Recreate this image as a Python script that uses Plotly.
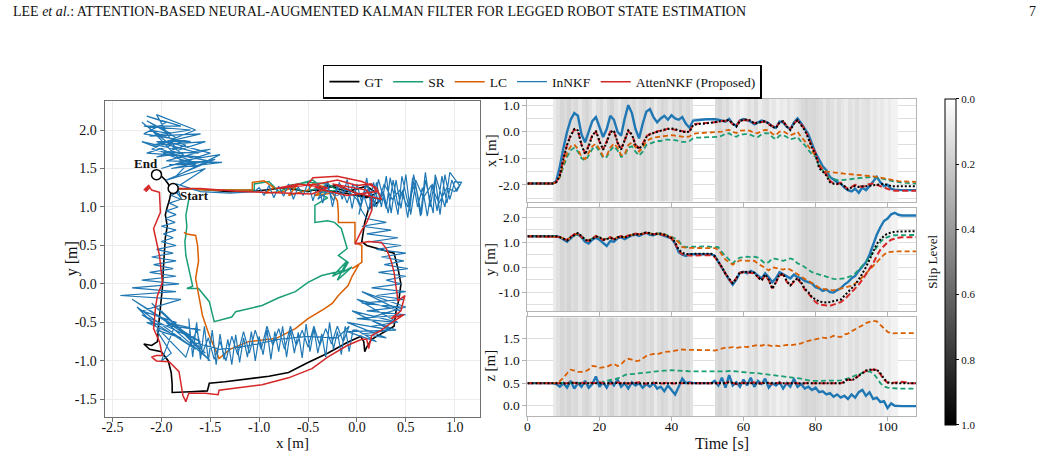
import plotly.graph_objects as go

W, H = 1041, 457
FONT = "Liberation Serif"

# ---------------- 2D trajectories (x [m], y [m]) ----------------
GT_PATH = [(-1.88,1.24),(-1.6,1.23),(-1.3,1.2),(-1.0,1.21),(-0.75,1.25),(-0.5,1.2),(-0.3,1.28),(-0.1,1.2),
           (0.1,1.27),(0.2,1.18),(0.1,1.12),(-0.2,1.2),(-0.45,1.22),(-0.2,1.28),(0.05,1.15),(0.25,1.1),
           (0.2,1.05),(0.12,0.98),(0.08,0.8),(0.05,0.55),(0.1,0.5),(0.25,0.45),(0.38,0.4),(0.42,0.2),
           (0.45,0.0),(0.43,-0.2),(0.4,-0.35),(0.38,-0.55),(0.25,-0.65),(0.15,-0.72),(0.1,-0.82),(0.08,-0.88),
           (0.07,-0.75),(0.04,-0.68),(-0.1,-0.76),(-0.3,-0.9),(-0.5,-1.02),(-0.7,-1.15),(-0.9,-1.2),(-1.14,-1.24),
           (-1.35,-1.27),(-1.51,-1.29),(-1.52,-1.35),(-1.53,-1.39),(-1.7,-1.4),(-1.89,-1.41),(-1.89,-1.3),
           (-1.9,-1.15),(-1.93,-1.0),(-2.0,-0.88),(-2.12,-0.85),(-2.18,-0.78),(-2.1,-0.8),(-2.04,-0.75),
           (-2.03,-0.55),(-2.01,-0.3),(-1.99,-0.05),(-1.98,0.2),(-1.97,0.45),(-1.96,0.6),(-1.94,0.75),
           (-1.96,0.9),(-1.94,1.0),(-1.92,1.08),(-1.9,1.2),(-1.93,1.3),(-1.96,1.35),(-2.0,1.4),(-2.05,1.42)]

SR_PATH = [(-1.88,1.24),(-1.5,1.22),(-1.05,1.22),(-1.05,1.3),(-0.9,1.33),(-0.8,1.2),(-0.6,1.3),(-0.45,1.35),
           (-0.35,1.25),(-0.55,1.2),(-0.7,1.28),(-0.5,1.32),(-0.3,1.3),(-0.2,1.22),(-0.4,1.18),(-0.3,1.12),
           (-0.43,1.02),(-0.43,0.8),(-0.3,0.82),(-0.23,0.8),(-0.16,0.72),(-0.12,0.54),(-0.1,0.46),(-0.19,0.37),
           (-0.09,0.28),(-0.15,0.15),(-0.05,0.22),(-0.2,0.05),(-0.1,0.3),(-0.25,0.1),(-0.12,0.18),(-0.36,0.11),
           (-0.5,0.02),(-0.63,-0.1),(-0.8,-0.18),(-0.97,-0.28),(-1.1,-0.32),(-1.24,-0.36),(-1.28,-0.43),
           (-1.46,-0.49),(-1.51,-0.23),(-1.62,-0.06),(-1.74,-0.06),(-1.68,-0.03),(-1.75,0.37),(-1.76,0.55),
           (-1.75,0.63),(-1.74,0.75),(-1.75,0.89),(-1.72,1.06),(-1.72,1.1)]

LC_PATH = [(-1.88,1.24),(-1.5,1.22),(-1.07,1.22),(-1.07,1.32),(-0.95,1.34),(-0.85,1.25),(-0.95,1.18),
           (-0.75,1.2),(-0.6,1.3),(-0.7,1.15),(-0.5,1.22),(-0.45,1.3),(-0.3,1.25),(-0.43,1.15),(-0.25,1.18),
           (-0.2,1.08),(-0.19,0.93),(-0.19,0.8),(-0.02,0.8),(-0.02,0.54),(0.05,0.5),(0.05,0.28),(-0.05,0.2),
           (0.02,0.25),(-0.05,0.1),(-0.09,-0.02),(-0.19,-0.15),(-0.25,-0.25),(-0.33,-0.32),(-0.5,-0.45),
           (-0.63,-0.58),(-0.83,-0.71),(-1.11,-0.75),(-1.3,-0.85),(-1.41,-0.97),(-1.45,-0.85),(-1.51,-0.67),
           (-1.58,-0.41),(-1.62,-0.15),(-1.65,0.07),(-1.62,0.3),(-1.63,0.5),(-1.65,0.63),(-1.74,0.65),(-1.77,0.67)]

IN_PATH = [
    # leaving the start, top band (several passes)
    (-1.88,1.24),(-1.8,1.12),(-1.85,1.3),(-1.6,1.2),(-1.3,1.18),(-1.05,1.2),
    (-1.0,1.25),(-0.95,1.15),(-0.9,1.28),(-0.85,1.12),(-0.8,1.27),(-0.75,1.14),(-0.7,1.3),(-0.65,1.1),
    (-0.6,1.26),(-0.55,1.15),(-0.5,1.32),(-0.45,1.08),(-0.4,1.3),(-0.35,1.05),(-0.3,1.34),(-0.25,1.0),
    (-0.2,1.28),(-0.15,1.1),(-0.1,1.36),(-0.05,0.98),(0.0,1.3),(0.05,1.05),(0.1,1.38),(0.15,0.95),
    (0.2,1.32),(0.25,1.0),(0.3,1.4),(0.35,0.92),(0.4,1.35),(0.45,0.98),(0.5,1.42),(0.55,0.9),(0.6,1.3),
    (0.65,0.88),(0.7,1.45),(0.75,1.0),(0.8,1.38),(0.85,0.9),(0.9,1.42),(0.95,1.1),(1.0,1.33),(1.07,1.32),
    (1.02,1.2),(0.97,1.35),(0.92,1.05),(0.87,1.4),(0.82,0.95),(0.77,1.3),(0.72,0.88),(0.67,1.25),
    (0.62,1.0),(0.57,1.38),(0.52,0.86),(0.47,1.22),(0.42,1.02),(0.37,1.35),(0.32,0.92),(0.27,1.2),
    (0.22,1.05),(0.17,1.32),(0.12,0.95),(0.07,1.15),(0.02,0.9),
    (0.05,1.1),(0.12,1.25),(0.2,1.0),(0.28,1.3),(0.36,1.1),(0.44,1.22),(0.52,1.0),(0.6,1.35),(0.68,1.12),
    (0.76,1.28),(0.84,1.05),(0.92,1.25),(1.0,1.2),
    (1.05,1.28),(0.95,1.45),(0.9,1.0),(0.8,1.42),(0.78,0.92),(0.7,1.35),(0.66,0.9),(0.58,1.42),(0.54,0.95),
    (0.46,1.4),(0.42,0.9),(0.34,1.38),(0.3,0.98),(0.22,1.36),(0.18,1.0),(0.1,1.3),(0.04,1.0),(-0.04,1.3),
    (-0.1,1.05),(-0.18,1.32),(-0.24,1.08),(-0.32,1.3),(-0.4,1.1),(-0.3,1.2),(-0.2,1.15),(-0.1,1.22),
    (0.0,1.1),(0.05,0.95),
    # right side, going down
    (0.1,0.85),(0.3,0.8),(0.05,0.75),(0.35,0.7),(0.1,0.65),(0.42,0.6),(0.15,0.55),(0.45,0.5),(0.2,0.45),
    (0.5,0.4),(0.25,0.35),(0.48,0.3),(0.28,0.25),(0.52,0.2),(0.22,0.15),(0.5,0.1),(0.3,0.05),(0.45,0.0),
    (0.15,-0.05),(0.5,-0.1),(0.2,-0.15),(0.48,-0.2),(0.05,-0.25),(0.45,-0.3),(0.1,-0.35),(0.5,-0.4),
    (0.0,-0.45),(0.4,-0.5),(0.15,-0.55),(0.35,-0.6),(0.05,-0.65),
    (0.3,-0.7),(-0.1,-0.5),(0.35,-0.6),(-0.05,-0.35),(0.42,-0.5),(0.0,-0.2),(0.45,-0.35),(0.05,-0.1),
    (0.5,-0.3),(0.1,-0.45),(0.4,-0.6),(-0.1,-0.62),(0.2,-0.75),(0.0,-0.6),
    # bottom band, going left, back right, and left again
    (-0.04,-0.6),(-0.08,-0.88),(-0.12,-0.55),(-0.16,-0.92),(-0.2,-0.62),(-0.24,-0.85),(-0.28,-0.5),
    (-0.32,-0.95),(-0.36,-0.65),(-0.4,-0.9),(-0.44,-0.58),(-0.48,-0.88),(-0.52,-0.52),(-0.56,-0.96),
    (-0.6,-0.63),(-0.64,-0.9),(-0.68,-0.6),(-0.72,-0.95),(-0.76,-0.55),(-0.8,-0.88),(-0.84,-0.62),
    (-0.88,-0.98),(-0.92,-0.6),(-0.96,-0.92),(-1.0,-0.68),(-1.04,-1.0),(-1.08,-0.62),(-1.12,-0.95),
    (-1.16,-0.7),(-1.2,-1.02),(-1.24,-0.66),(-1.28,-1.05),(-1.32,-0.72),(-1.36,-0.98),(-1.4,-0.65),
    (-1.44,-1.05),(-1.48,-0.6),(-1.52,-1.0),(-1.56,-0.55),(-1.6,-0.98),(-1.64,-0.5),(-1.68,-0.95),(-1.72,-0.45),
    (-1.7,-0.8),(-1.64,-0.6),(-1.58,-0.9),(-1.52,-0.7),(-1.46,-0.98),(-1.4,-0.75),(-1.34,-1.0),(-1.28,-0.68),
    (-1.22,-0.92),(-1.16,-0.62),(-1.1,-0.9),(-1.04,-0.6),(-0.98,-0.85),(-0.92,-0.55),(-0.86,-0.8),
    (-0.8,-0.58),(-0.74,-0.85),(-0.68,-0.55),(-0.62,-0.8),(-0.56,-0.6),(-0.5,-0.82),(-0.44,-0.55),
    (-0.38,-0.8),(-0.32,-0.58),(-0.26,-0.78),(-0.2,-0.55),(-0.14,-0.75),(-0.08,-0.55),
    (-0.2,-0.7),(-0.5,-0.68),(-0.8,-0.72),(-1.1,-0.8),(-1.4,-0.85),(-1.7,-0.75),
    (-1.75,-0.95),(-2.25,-0.3),(-1.65,-0.85),(-2.2,-0.4),(-1.6,-0.75),(-2.3,-0.2),(-1.7,-0.7),(-2.1,-0.25),
    (-1.55,-0.9),(-2.0,-0.35),(-1.5,-1.0),(-1.95,-0.5),(-1.6,-0.6),(-2.15,-0.5),(-1.8,-0.7),(-2.05,-0.6),
    (-1.9,-0.9),(-2.0,-1.0),(-1.85,-0.5),(-2.2,-0.35),
    # left side, going up
    (-1.8,-0.2),(-2.42,-0.15),(-1.85,-0.1),(-2.3,-0.05),(-1.82,0.0),(-2.2,0.05),(-1.85,0.1),(-2.12,0.15),
    (-1.88,0.2),(-2.08,0.25),(-1.85,0.3),(-2.1,0.35),(-1.88,0.4),(-2.05,0.45),(-1.85,0.5),(-2.0,0.55),
    (-1.88,0.6),(-1.98,0.65),(-1.85,0.7),(-2.0,0.75),(-1.86,0.8),(-1.96,0.85),(-1.85,0.9),(-1.95,0.95),
    (-1.83,1.0),(-1.92,1.05),(-1.8,1.1),(-1.9,1.15),(-1.82,1.2),
    # upper-left drift
    (-1.85,1.25),(-1.55,1.5),(-1.95,1.35),(-1.45,1.62),(-1.9,1.5),(-1.38,1.58),(-1.95,1.6),(-1.5,1.75),
    (-2.05,1.65),(-1.55,1.85),(-2.1,1.8),(-1.6,1.95),(-2.12,1.92),(-1.7,2.0),(-2.18,2.05),(-1.8,2.05),
    (-2.15,2.18),(-1.95,2.1),(-2.18,1.95),(-1.7,1.85),(-2.05,1.85),(-1.62,1.7),(-2.0,1.72),(-1.52,1.6),
    (-1.92,1.55),(-1.65,1.55),(-1.98,1.7),(-1.75,1.8),(-2.12,2.0),(-1.9,1.95),(-2.15,2.12),(-1.85,1.9),
    (-2.1,1.75),(-1.75,1.65),
    (-2.2,2.1),(-1.9,1.8),(-2.15,1.7),(-1.6,1.65),(-2.0,1.5),(-1.5,1.7),(-1.95,1.85),(-1.65,2.0),
    (-2.05,2.2),(-1.85,1.75),(-2.2,1.85),(-1.7,1.6),(-1.85,1.4),(-1.4,1.68),(-1.8,1.6),(-2.1,2.0),(-2.05,2.05)]

AT_PATH = [(-1.88,1.24),(-1.6,1.24),(-1.2,1.2),(-0.8,1.18),(-0.46,1.17),(-0.3,1.25),(-0.6,1.3),(-0.83,1.24),
           (-0.4,1.3),(-0.2,1.35),(0.0,1.28),(0.15,1.3),(0.2,1.2),(-0.1,1.15),(-0.35,1.22),(-0.5,1.3),
           (-0.45,1.38),(-0.2,1.4),(0.05,1.33),(0.2,1.25),(0.25,1.1),(0.0,1.18),(-0.25,1.3),(0.1,1.22),
           (0.15,1.1),(0.15,0.95),(0.1,0.8),(0.05,0.7),(-0.02,0.52),(0.12,0.55),(0.25,0.54),(0.3,0.46),
           (0.35,0.3),(0.38,0.15),(0.4,-0.05),(0.42,-0.22),(0.49,-0.15),(0.45,-0.35),(0.35,-0.45),(0.48,-0.4),
           (0.3,-0.55),(0.25,-0.6),(0.15,-0.67),(0.12,-0.84),(0.1,-0.72),(0.05,-0.72),(-0.1,-0.8),(-0.3,-0.95),
           (-0.46,-1.1),(-0.7,-1.22),(-0.97,-1.31),(-1.2,-1.35),(-1.41,-1.38),(-1.42,-1.44),(-1.55,-1.42),
           (-1.72,-1.42),(-1.75,-1.53),(-1.78,-1.45),(-1.82,-1.14),(-1.92,-1.01),(-2.05,-1.0),(-2.1,-0.95),
           (-2.05,-0.93),(-1.99,-0.93),(-2.02,-0.75),(-2.08,-0.58),(-2.06,-0.3),(-2.04,-0.15),(-1.99,0.02),
           (-2.02,0.37),(-2.08,0.72),(-2.01,0.93),(-2.02,1.19),(-2.1,1.22),(-2.13,1.28),(-2.18,1.22),
           (-2.12,1.25),(-2.16,1.2),(-2.14,1.27)]

START_PT = (-1.88, 1.24)
END_PT = (-2.05, 1.42)

# ---------------- time series ----------------
T = list(range(109))  # seconds

GT_X = [-1.95,-1.95,-1.95,-1.95,-1.95,-1.95,-1.95,-1.95,-1.9,-1.65,
        -1.0,-0.5,-0.15,0.1,0.05,-0.5,-0.85,-0.55,-0.15,0.03,
        -0.35,-0.68,-0.4,-0.02,0.05,-0.4,-0.68,-0.3,0.05,-0.1,
        -0.5,-0.65,-0.5,-0.2,-0.1,-0.05,0.0,0.05,0.08,0.1,
        0.12,0.1,0.05,0.0,-0.02,0.0,0.25,0.28,0.3,0.3,
        0.32,0.33,0.36,0.38,0.38,0.4,0.44,0.3,0.19,0.4,
        0.45,0.46,0.42,0.3,0.33,0.38,0.4,0.3,0.18,0.13,
        0.35,0.4,0.2,0.06,0.3,0.44,0.25,0.06,-0.25,-0.6,
        -0.85,-1.38,-1.5,-1.65,-1.9,-1.96,-1.96,-1.96,-2.05,-2.18,
        -2.1,-2.05,-2.08,-2.05,-2.05,-2.03,-2.0,-1.98,-1.96,-1.96,
        -2.0,-2.05,-2.05,-2.05,-2.05,-2.05,-2.05,-2.05,-2.05]
AT_X = [-1.95,-1.95,-1.95,-1.95,-1.95,-1.95,-1.95,-1.95,-1.9,-1.62,
        -1.0,-0.48,-0.13,0.08,0.02,-0.48,-0.82,-0.52,-0.12,0.0,
        -0.38,-0.66,-0.36,0.0,0.03,-0.42,-0.65,-0.28,0.02,-0.12,
        -0.48,-0.62,-0.46,-0.18,-0.08,-0.06,0.02,0.03,0.06,0.12,
        0.1,0.08,0.04,0.02,0.0,0.02,0.27,0.3,0.31,0.32,
        0.33,0.34,0.37,0.37,0.4,0.42,0.42,0.28,0.22,0.42,
        0.44,0.44,0.4,0.32,0.35,0.36,0.38,0.28,0.2,0.15,
        0.36,0.38,0.22,0.1,0.32,0.42,0.28,0.1,-0.2,-0.55,
        -0.8,-1.3,-1.45,-1.6,-1.85,-1.95,-1.98,-1.92,-2.05,-2.15,
        -2.08,-2.0,-2.05,-2.08,-2.0,-1.98,-1.95,-2.0,-2.05,-2.1,
        -2.15,-2.2,-2.22,-2.22,-2.2,-2.22,-2.23,-2.22,-2.22]
IN_X = [-1.95,-1.95,-1.95,-1.95,-1.95,-1.95,-1.95,-1.95,-1.85,-1.3,
        -0.6,0.0,0.45,0.7,0.6,-0.1,-0.4,0.0,0.4,0.55,
        0.15,-0.2,0.1,0.6,0.45,0.0,-0.15,0.5,1.0,0.7,
        0.1,-0.25,0.3,0.75,0.85,0.55,0.35,0.5,0.6,0.45,
        0.62,0.5,0.45,0.55,0.3,0.15,0.42,0.44,0.45,0.46,
        0.47,0.48,0.47,0.45,0.42,0.38,0.48,0.3,0.22,0.42,
        0.48,0.44,0.38,0.28,0.36,0.42,0.38,0.32,0.2,0.15,
        0.38,0.35,0.18,0.1,0.35,0.5,0.32,0.12,-0.1,-0.45,
        -0.8,-1.05,-1.3,-1.45,-1.7,-1.8,-1.9,-1.95,-2.1,-2.2,
        -2.25,-2.15,-2.3,-2.1,-2.2,-2.05,-1.85,-1.7,-1.9,-2.05,
        -2.0,-2.15,-2.18,-2.2,-2.2,-2.2,-2.2,-2.2,-2.2]
SR_X = [-1.95,-1.95,-1.95,-1.95,-1.95,-1.95,-1.95,-1.95,-1.9,-1.72,
        -1.3,-0.95,-0.7,-0.6,-0.75,-1.0,-1.08,-0.9,-0.65,-0.55,
        -0.75,-0.98,-0.95,-0.7,-0.55,-0.7,-0.95,-0.9,-0.6,-0.55,
        -0.75,-0.9,-0.75,-0.5,-0.45,-0.4,-0.35,-0.35,-0.3,-0.3,
        -0.3,-0.32,-0.35,-0.38,-0.38,-0.35,-0.25,-0.22,-0.22,-0.21,
        -0.21,-0.2,-0.2,-0.19,-0.15,-0.08,-0.06,-0.15,-0.19,-0.1,
        -0.1,-0.08,-0.12,-0.18,-0.2,-0.1,-0.05,-0.06,-0.2,-0.29,
        -0.15,-0.12,-0.2,-0.29,-0.25,-0.2,-0.38,-0.5,-0.69,-0.85,
        -0.95,-1.3,-1.45,-1.65,-1.72,-1.78,-1.82,-1.83,-1.82,-1.8,
        -1.78,-1.76,-1.75,-1.73,-1.72,-1.7,-1.7,-1.72,-1.76,-1.8,
        -1.82,-1.85,-1.88,-1.9,-1.92,-1.93,-1.94,-1.95,-1.95]
LC_X = [-1.95,-1.95,-1.95,-1.95,-1.95,-1.95,-1.95,-1.95,-1.9,-1.68,
        -1.2,-0.8,-0.55,-0.48,-0.65,-0.95,-1.03,-0.8,-0.55,-0.45,
        -0.65,-0.92,-0.9,-0.6,-0.45,-0.6,-0.88,-0.85,-0.5,-0.4,
        -0.6,-0.75,-0.6,-0.35,-0.28,-0.22,-0.2,-0.18,-0.15,-0.15,
        -0.13,-0.15,-0.17,-0.2,-0.2,-0.18,-0.08,-0.06,-0.05,-0.05,
        -0.04,-0.04,-0.03,-0.02,0.0,0.05,0.07,0.0,-0.05,0.04,
        0.05,0.06,0.02,-0.05,-0.05,0.03,0.07,0.05,-0.08,-0.13,
        0.0,0.02,-0.06,-0.13,-0.08,0.0,-0.2,-0.35,-0.55,-0.75,
        -0.9,-1.2,-1.42,-1.5,-1.52,-1.53,-1.55,-1.56,-1.58,-1.59,
        -1.6,-1.62,-1.63,-1.65,-1.66,-1.67,-1.68,-1.7,-1.73,-1.76,
        -1.79,-1.82,-1.84,-1.86,-1.87,-1.88,-1.88,-1.89,-1.89]

GT_Y = [1.24,1.24,1.24,1.24,1.24,1.24,1.24,1.24,1.24,1.2,
        1.15,1.07,1.2,1.3,1.37,1.25,1.1,1.04,1.15,1.23,
        1.2,1.1,1.12,1.18,1.1,1.2,1.23,1.18,1.25,1.3,
        1.33,1.3,1.35,1.4,1.36,1.3,1.33,1.35,1.3,1.25,
        1.17,1.0,0.7,0.58,0.53,0.53,0.54,0.54,0.54,0.54,
        0.54,0.54,0.45,0.25,0.0,-0.27,-0.45,-0.64,-0.45,-0.2,
        -0.2,-0.18,-0.2,-0.22,-0.4,-0.53,-0.29,-0.5,-0.87,-0.6,
        -0.3,-0.27,-0.55,-0.73,-0.55,-0.45,-0.6,-0.87,-1.0,-1.2,
        -1.3,-1.38,-1.4,-1.42,-1.4,-1.35,-1.33,-1.3,-1.15,-1.0,
        -0.87,-0.7,-0.5,-0.27,0.0,0.3,0.6,0.93,1.1,1.25,
        1.35,1.4,1.42,1.43,1.44,1.44,1.44,1.44,1.44]
AT_Y = [1.24,1.24,1.24,1.24,1.24,1.24,1.24,1.24,1.24,1.21,
        1.14,1.09,1.22,1.32,1.35,1.22,1.08,1.06,1.17,1.25,
        1.18,1.08,1.14,1.2,1.12,1.18,1.25,1.2,1.27,1.28,
        1.35,1.32,1.33,1.38,1.34,1.32,1.35,1.33,1.28,1.23,
        1.15,0.95,0.66,0.52,0.48,0.47,0.47,0.48,0.48,0.48,
        0.48,0.48,0.4,0.22,-0.02,-0.3,-0.5,-0.65,-0.45,-0.22,
        -0.2,-0.2,-0.22,-0.25,-0.42,-0.55,-0.32,-0.52,-0.85,-0.62,
        -0.32,-0.3,-0.58,-0.75,-0.58,-0.48,-0.65,-0.9,-1.05,-1.25,
        -1.4,-1.5,-1.52,-1.55,-1.55,-1.5,-1.45,-1.4,-1.3,-1.15,
        -1.0,-0.85,-0.7,-0.5,-0.3,-0.1,0.15,0.45,0.7,0.85,
        1.0,1.1,1.15,1.18,1.2,1.2,1.2,1.2,1.2]
IN_Y = [1.24,1.24,1.24,1.24,1.24,1.24,1.24,1.24,1.24,1.2,
        1.1,1.02,1.15,1.3,1.32,1.2,1.02,0.95,1.1,1.18,
        1.1,0.98,0.85,1.05,1.02,1.15,1.2,1.12,1.2,1.28,
        1.3,1.25,1.32,1.38,1.3,1.28,1.35,1.3,1.27,1.2,
        1.15,0.95,0.6,0.5,0.45,0.52,0.52,0.52,0.52,0.52,
        0.52,0.52,0.45,0.2,-0.05,-0.3,-0.5,-0.7,-0.5,-0.22,
        -0.18,-0.25,-0.15,-0.22,-0.35,-0.45,-0.25,-0.4,-0.6,-0.45,
        -0.2,-0.28,-0.35,-0.45,-0.3,-0.4,-0.45,-0.55,-0.6,-0.65,
        -0.8,-0.85,-0.95,-0.9,-1.0,-1.02,-0.92,-0.85,-0.7,-0.6,
        -0.45,-0.35,-0.15,0.05,0.2,0.5,0.9,1.3,1.6,1.85,
        1.95,2.12,2.18,2.1,2.07,2.07,2.07,2.07,2.07]
SR_Y = [1.24,1.24,1.24,1.24,1.24,1.24,1.24,1.24,1.24,1.2,
        1.16,1.1,1.2,1.28,1.33,1.25,1.12,1.08,1.15,1.22,
        1.2,1.12,1.14,1.2,1.12,1.2,1.24,1.2,1.26,1.3,
        1.32,1.3,1.34,1.38,1.36,1.32,1.34,1.35,1.32,1.28,
        1.22,1.15,1.05,0.85,0.8,0.82,0.83,0.83,0.83,0.83,
        0.83,0.83,0.82,0.8,0.6,0.45,0.3,0.15,0.3,0.38,
        0.4,0.42,0.4,0.42,0.38,0.25,0.15,0.2,0.35,0.33,
        0.3,0.25,0.3,0.35,0.3,0.15,0.1,0.0,-0.1,-0.2,
        -0.25,-0.3,-0.35,-0.4,-0.45,-0.47,-0.48,-0.47,-0.45,-0.4,
        -0.35,-0.25,-0.1,0.05,0.2,0.4,0.6,0.85,1.0,1.15,
        1.22,1.26,1.28,1.29,1.29,1.29,1.29,1.29,1.29]
LC_Y = [1.24,1.24,1.24,1.24,1.24,1.24,1.24,1.24,1.24,1.21,
        1.15,1.08,1.2,1.3,1.35,1.24,1.1,1.06,1.16,1.22,
        1.2,1.1,1.13,1.19,1.12,1.2,1.23,1.2,1.26,1.3,
        1.33,1.31,1.34,1.38,1.35,1.31,1.34,1.34,1.31,1.26,
        1.2,1.1,1.0,0.8,0.77,0.77,0.77,0.77,0.77,0.77,
        0.77,0.77,0.76,0.7,0.5,0.3,0.2,0.1,0.2,0.27,
        0.27,0.25,0.27,0.25,0.15,0.05,-0.05,-0.13,0.0,-0.05,
        -0.07,-0.1,-0.05,-0.1,-0.2,-0.3,-0.4,-0.47,-0.55,-0.65,
        -0.75,-0.82,-0.87,-0.9,-0.93,-0.93,-0.9,-0.87,-0.83,-0.8,
        -0.75,-0.65,-0.55,-0.4,-0.25,-0.1,0.05,0.2,0.35,0.5,
        0.6,0.63,0.63,0.63,0.63,0.63,0.63,0.63,0.63]

GT_Z = [0.5,0.5,0.5,0.5,0.5,0.5,0.5,0.5,0.5,0.51,
        0.5,0.49,0.5,0.51,0.5,0.49,0.5,0.5,0.51,0.5,
        0.5,0.49,0.5,0.5,0.51,0.5,0.49,0.5,0.5,0.5,
        0.51,0.5,0.49,0.5,0.5,0.5,0.51,0.5,0.5,0.49,
        0.5,0.5,0.51,0.5,0.5,0.5,0.5,0.5,0.5,0.5,
        0.5,0.5,0.5,0.51,0.5,0.5,0.52,0.5,0.49,0.5,
        0.5,0.5,0.51,0.5,0.49,0.5,0.5,0.51,0.5,0.5,
        0.5,0.49,0.5,0.5,0.5,0.5,0.49,0.5,0.5,0.5,
        0.5,0.5,0.5,0.5,0.5,0.5,0.5,0.5,0.52,0.6,
        0.56,0.6,0.67,0.73,0.78,0.8,0.8,0.8,0.72,0.6,
        0.52,0.5,0.5,0.5,0.5,0.5,0.5,0.5,0.5]
AT_Z = [0.5,0.5,0.5,0.5,0.5,0.5,0.5,0.5,0.5,0.5,
        0.51,0.5,0.52,0.5,0.49,0.51,0.5,0.52,0.5,0.51,
        0.52,0.5,0.51,0.49,0.5,0.52,0.5,0.51,0.49,0.5,
        0.5,0.52,0.5,0.49,0.51,0.5,0.5,0.49,0.5,0.51,
        0.5,0.49,0.5,0.5,0.51,0.5,0.5,0.5,0.5,0.5,
        0.5,0.5,0.51,0.5,0.52,0.5,0.53,0.51,0.48,0.5,
        0.51,0.49,0.5,0.52,0.49,0.5,0.51,0.5,0.48,0.5,
        0.51,0.5,0.49,0.5,0.51,0.5,0.48,0.5,0.51,0.5,
        0.5,0.5,0.51,0.5,0.5,0.51,0.5,0.5,0.53,0.58,
        0.57,0.61,0.66,0.72,0.77,0.79,0.8,0.79,0.7,0.58,
        0.51,0.5,0.51,0.52,0.53,0.52,0.5,0.5,0.5]
IN_Z = [0.5,0.5,0.5,0.5,0.5,0.5,0.5,0.5,0.48,0.42,
        0.5,0.4,0.55,0.38,0.5,0.42,0.55,0.4,0.48,0.65,
        0.42,0.52,0.4,0.55,0.45,0.58,0.42,0.5,0.38,0.52,
        0.45,0.5,0.4,0.48,0.42,0.5,0.38,0.42,0.32,0.45,
        0.35,0.25,0.42,0.6,0.5,0.52,0.5,0.5,0.5,0.5,
        0.5,0.5,0.55,0.45,0.62,0.4,0.68,0.45,0.52,0.42,
        0.58,0.45,0.62,0.42,0.55,0.48,0.6,0.4,0.5,0.45,
        0.52,0.38,0.5,0.42,0.6,0.42,0.48,0.38,0.42,0.35,
        0.4,0.3,0.32,0.25,0.28,0.2,0.25,0.18,0.22,0.15,
        0.25,0.18,0.3,0.35,0.22,0.3,0.15,0.18,0.08,0.1,
        -0.05,0.05,0.0,-0.01,-0.01,-0.01,-0.01,-0.01,-0.01]
SR_Z = [0.5,0.5,0.5,0.5,0.5,0.5,0.5,0.5,0.5,0.5,
        0.5,0.5,0.5,0.5,0.5,0.5,0.5,0.5,0.5,0.5,
        0.5,0.52,0.55,0.57,0.58,0.6,0.63,0.68,0.7,0.7,
        0.71,0.71,0.72,0.73,0.74,0.75,0.76,0.77,0.78,0.78,
        0.79,0.78,0.78,0.77,0.77,0.76,0.76,0.76,0.75,0.75,
        0.75,0.75,0.75,0.75,0.76,0.76,0.77,0.77,0.76,0.75,
        0.74,0.74,0.73,0.73,0.72,0.72,0.71,0.7,0.69,0.68,
        0.67,0.66,0.65,0.64,0.62,0.61,0.6,0.58,0.56,0.55,
        0.55,0.55,0.55,0.55,0.55,0.55,0.56,0.56,0.58,0.6,
        0.63,0.67,0.7,0.73,0.75,0.76,0.72,0.62,0.5,0.43,
        0.4,0.39,0.38,0.38,0.38,0.38,0.38,0.38,0.38]
LC_Z = [0.5,0.5,0.5,0.5,0.5,0.5,0.5,0.5,0.5,0.55,
        0.62,0.72,0.8,0.78,0.75,0.75,0.76,0.8,0.88,0.87,
        0.84,0.85,0.86,0.9,0.93,0.88,0.92,1.0,1.04,1.02,
        0.99,1.0,1.05,1.1,1.13,1.15,1.14,1.17,1.19,1.2,
        1.2,1.22,1.24,1.25,1.24,1.24,1.24,1.24,1.23,1.23,
        1.23,1.23,1.22,1.24,1.27,1.29,1.29,1.3,1.28,1.3,
        1.31,1.3,1.32,1.34,1.35,1.33,1.36,1.34,1.32,1.33,
        1.32,1.33,1.35,1.34,1.35,1.36,1.38,1.42,1.44,1.45,
        1.48,1.5,1.51,1.5,1.51,1.55,1.53,1.52,1.58,1.6,
        1.65,1.7,1.74,1.78,1.83,1.86,1.88,1.87,1.8,1.71,
        1.64,1.6,1.61,1.61,1.61,1.61,1.61,1.61,1.61]

# slip level per 1-s bin (None = no slip band drawn)
SLIP_EDGES = list(range(109))
SLIP = [None,None,None,None,None,None,None,0.08,0.12,0.16,
        0.14,0.17,0.13,0.15,0.1,0.14,0.16,0.12,0.08,0.13,
        0.15,0.1,0.14,0.17,0.12,0.09,0.14,0.16,0.13,0.15,
        0.11,0.14,0.16,0.12,0.15,0.08,0.13,0.16,0.14,0.1,
        0.15,0.13,0.17,0.12,0.15,0.11,None,None,None,None,
        None,None,0.14,0.16,0.12,0.15,0.1,0.06,0.09,0.05,
        0.08,0.12,0.1,0.14,0.07,0.11,0.13,0.08,0.1,0.06,
        0.09,0.07,0.11,0.08,0.1,0.12,0.15,0.17,0.15,0.16,
        0.14,0.13,0.1,0.14,0.12,0.09,0.13,0.1,0.08,0.12,
        0.1,0.13,0.09,0.11,0.12,0.08,0.1,0.07,0.09,0.06,
        0.08,0.05,0.05,None,None,None,None,None]

for arr in (GT_X, AT_X, IN_X, SR_X, LC_X, GT_Y, AT_Y, IN_Y, SR_Y, LC_Y, GT_Z, AT_Z, IN_Z, SR_Z, LC_Z):
    assert len(arr) == len(T), len(arr)
assert len(SLIP) == len(SLIP_EDGES) - 1

NAMES = ["GT", "SR", "LC", "InNKF", "AttenNKF (Proposed)"]
COLORS = {"GT": "#000000", "SR": "#1b9e77", "LC": "#d95f02", "InNKF": "#1f77b4", "AttenNKF (Proposed)": "#d62728"}

# ---------------- layout geometry (pixels) ----------------
def fx(px): return px / W
def fy(py): return 1 - py / H

L_X0, L_X1, L_Y0, L_Y1 = 102, 478, 100, 417
R_X0, R_X1 = 526, 916
P1 = (98, 201); P2 = (207, 311); P3 = (317, 416)
RANGE_X2D = [-2.58, 1.255]; RANGE_Y2D = [-1.73, 2.38]
RANGE_T = [0, 108]
RANGE_P1 = [-2.63, 1.24]; RANGE_P2 = [-1.77, 2.39]; RANGE_P3 = [-0.23, 1.96]

fig = go.Figure()

# slip-level background bands (display value = 1 - slip so that 0 sits on top of the colour bar)
SLIP_DISPLAY = [None if s is None else 1 - s for s in SLIP]
for xa, ya, rng in (("x2", "y2", RANGE_P1), ("x3", "y3", RANGE_P2), ("x4", "y4", RANGE_P3)):
    fig.add_trace(go.Heatmap(x=SLIP_EDGES, y=[rng[0], rng[1]], z=[SLIP_DISPLAY], coloraxis="coloraxis",
                             xaxis=xa, yaxis=ya, hoverinfo="skip", zsmooth=False, showlegend=False))

# 2D trajectories
paths = {"GT": GT_PATH, "SR": SR_PATH, "LC": LC_PATH, "InNKF": IN_PATH, "AttenNKF (Proposed)": AT_PATH}
widths2d = {"GT": 1.6, "SR": 1.5, "LC": 1.5, "InNKF": 1.2, "AttenNKF (Proposed)": 1.5}
for i, n in enumerate(NAMES):
    p = paths[n]
    fig.add_trace(go.Scatter(x=[a for a, b in p], y=[b for a, b in p], mode="lines", name=n,
                             line=dict(color=COLORS[n], width=widths2d[n]), xaxis="x", yaxis="y",
                             legendrank=i + 1))

fig.add_trace(go.Scatter(x=[START_PT[0], END_PT[0]], y=[START_PT[1], END_PT[1]], mode="markers",
                         marker=dict(symbol="circle", size=10, color="white", line=dict(color="black", width=1.5)),
                         showlegend=False, xaxis="x", yaxis="y"))

# time series
series = {
    "x2": {"GT": GT_X, "SR": SR_X, "LC": LC_X, "InNKF": IN_X, "AttenNKF (Proposed)": AT_X},
    "x3": {"GT": GT_Y, "SR": SR_Y, "LC": LC_Y, "InNKF": IN_Y, "AttenNKF (Proposed)": AT_Y},
    "x4": {"GT": GT_Z, "SR": SR_Z, "LC": LC_Z, "InNKF": IN_Z, "AttenNKF (Proposed)": AT_Z},
}
ts_style = {
    "InNKF": dict(width=2.4, dash="solid"),
    "SR": dict(width=1.8, dash="5px,3px"),
    "LC": dict(width=1.8, dash="5px,3px"),
    "AttenNKF (Proposed)": dict(width=2.0, dash="6px,3px"),
    "GT": dict(width=2.0, dash="2px,2px"),
}
for xa, ya in (("x2", "y2"), ("x3", "y3"), ("x4", "y4")):
    for n in ["InNKF", "SR", "LC", "AttenNKF (Proposed)", "GT"]:
        fig.add_trace(go.Scatter(x=T, y=series[xa][n], mode="lines", showlegend=False,
                                 line=dict(color=COLORS[n], **ts_style[n]), xaxis=xa, yaxis=ya))

tick_font = dict(family=FONT, size=14, color="#111")
tick_font_r = dict(family=FONT, size=13.5, color="#111")
grid_l = "#ececec"
grid_r = "#dedede"

def lab(v):
    return f"{v:.1f}"

xt2d = [-2.5, -2.0, -1.5, -1.0, -0.5, 0.0, 0.5, 1.0]
yt2d = [-1.5, -1.0, -0.5, 0.0, 0.5, 1.0, 1.5, 2.0]
tt = [0, 20, 40, 60, 80, 100]

common_r = dict(showline=True, mirror=True, linecolor="#b4b4b4", linewidth=1, showgrid=True, gridcolor=grid_r,
                ticks="outside", ticklen=4, tickcolor="#b4b4b4", tickfont=tick_font_r, zeroline=False)

fig.update_layout(
    width=W, height=H, margin=dict(l=0, r=0, t=0, b=0), plot_bgcolor="white", paper_bgcolor="white",
    font=dict(family=FONT, color="#111"),
    xaxis=dict(domain=[fx(L_X0), fx(L_X1)], range=RANGE_X2D, tickvals=xt2d, ticktext=[lab(v) for v in xt2d],
               showline=True, mirror=True, linecolor="#707070", linewidth=1.2, showgrid=True, gridcolor=grid_l,
               ticks="outside", ticklen=4, tickcolor="#707070", tickfont=tick_font, zeroline=False, anchor="y",
               ticklabelstandoff=-7),
    yaxis=dict(domain=[fy(L_Y1), fy(L_Y0)], range=RANGE_Y2D, tickvals=yt2d, ticktext=[lab(v) for v in yt2d],
               showline=True, mirror=True, linecolor="#707070", linewidth=1.2, showgrid=True, gridcolor=grid_l,
               ticks="outside", ticklen=4, tickcolor="#707070", tickfont=tick_font, zeroline=False, anchor="x"),
    xaxis2=dict(domain=[fx(R_X0), fx(R_X1)], range=RANGE_T, tickvals=tt, showticklabels=False, anchor="y2",
                matches="x4", **common_r),
    yaxis2=dict(domain=[fy(P1[1]), fy(P1[0])], range=RANGE_P1, tickvals=[-2, -1, 0, 1],
                ticktext=["-2.0", "-1.0", "0.0", "1.0"], anchor="x2",
                minor=dict(tickvals=[-2.5, -1.5, -0.5, 0.5], showgrid=True, gridcolor=grid_r, ticklen=0),
                **common_r),
    xaxis3=dict(domain=[fx(R_X0), fx(R_X1)], range=RANGE_T, tickvals=tt, showticklabels=False, anchor="y3",
                matches="x4", **common_r),
    yaxis3=dict(domain=[fy(P2[1]), fy(P2[0])], range=RANGE_P2, tickvals=[-1, 0, 1, 2],
                ticktext=["-1.0", "0.0", "1.0", "2.0"], anchor="x3",
                minor=dict(tickvals=[-1.5, -0.5, 0.5, 1.5], showgrid=True, gridcolor=grid_r, ticklen=0),
                **common_r),
    xaxis4=dict(domain=[fx(R_X0), fx(R_X1)], range=RANGE_T, tickvals=tt, ticktext=[str(v) for v in tt],
                anchor="y4", ticklabelstandoff=-6, **common_r),
    yaxis4=dict(domain=[fy(P3[1]), fy(P3[0])], range=RANGE_P3, tickvals=[0, 0.5, 1.0, 1.5],
                ticktext=["0.0", "0.5", "1.0", "1.5"], anchor="x4", **common_r),
    coloraxis=dict(colorscale=[[0, "#000000"], [1, "#ffffff"]], cmin=0, cmax=1,
                   colorbar=dict(x=fx(945), xanchor="left", y=fy(261.5), yanchor="middle",
                                 len=327 / H, lenmode="fraction", thickness=11, thicknessmode="pixels",
                                 outlinewidth=1, outlinecolor="#000", xpad=0, ypad=0,
                                 tickvals=[1.0, 0.8, 0.6, 0.4, 0.2, 0.0],
                                 ticktext=["0.0", "0.2", "0.4", "0.6", "0.8", "1.0"],
                                 ticks="outside", ticklen=3, tickcolor="#000",
                                 tickfont=dict(family=FONT, size=11, color="#111"))),
    legend=dict(orientation="h", x=fx(541), xanchor="center", y=fy(64), yanchor="top",
                bordercolor="#000", borderwidth=1.5, bgcolor="white",
                font=dict(family=FONT, size=13.5, color="#111"), itemwidth=30, tracegroupgap=0),
)

def pa(x, y, text, size=16, angle=0):
    return dict(x=fx(x), y=fy(y), xref="paper", yref="paper", xanchor="center", yanchor="middle",
                showarrow=False, text=text, textangle=angle, font=dict(family=FONT, size=size, color="#111"))

ann = [
    dict(x=fx(8), y=fy(11), xref="paper", yref="paper", xanchor="left", yanchor="middle", showarrow=False,
         text="LEE <i>et al.</i>: ATTENTION-BASED NEURAL-AUGMENTED KALMAN FILTER FOR LEGGED ROBOT STATE ESTIMATION",
         font=dict(family=FONT, size=14, color="#111")),
    pa(1032, 11, "7", 14),
    pa(290, 443, "x [m]", 15),
    pa(70, 258, "y [m]", angle=-90),
    pa(489, 150, "x [m]", 15, -90),
    pa(489, 259, "y [m]", 15, -90),
    pa(489, 366, "z [m]", 15, -90),
    pa(721, 443, "Time [s]"),
    pa(932, 261, "Slip Level", 13, -90),
    dict(x=-1.66, y=1.15, xref="x", yref="y", xanchor="center", yanchor="middle", showarrow=False,
         text="<b>Start</b>", font=dict(family=FONT, size=13, color="#111")),
    dict(x=-2.16, y=1.57, xref="x", yref="y", xanchor="center", yanchor="middle", showarrow=False,
         text="<b>End</b>", font=dict(family=FONT, size=13, color="#111")),
]
fig.update_layout(annotations=ann)

fig.write_html("out.html")
